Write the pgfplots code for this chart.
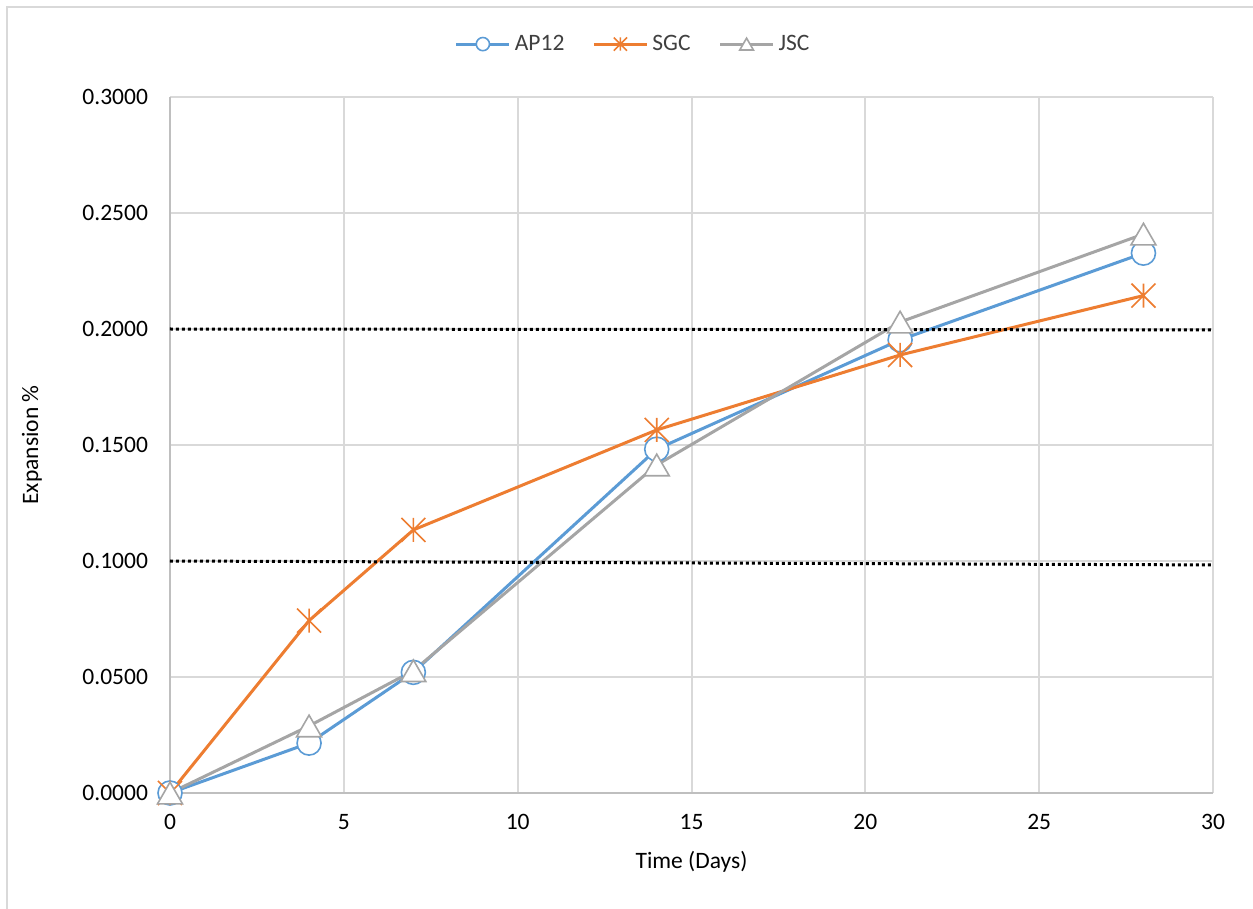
\documentclass[border=0pt]{standalone}
\usepackage{fontspec}
\setmainfont{Carlito}
\usepackage{pgfplots}
\pgfplotsset{compat=1.18}
\definecolor{cBlue}{HTML}{5B9BD5}
\definecolor{cOrange}{HTML}{ED7D31}
\definecolor{cGray}{HTML}{A5A5A5}
\definecolor{cGrid}{HTML}{D9D9D9}
\definecolor{cAxis}{HTML}{BFBFBF}
\definecolor{cText}{HTML}{404040}
\pgfdeclareplotmark{xstar}{%
  \pgfpathmoveto{\pgfqpoint{0pt}{\pgfplotmarksize}}\pgfpathlineto{\pgfqpoint{0pt}{-\pgfplotmarksize}}%
  \pgfpathmoveto{\pgfqpoint{-\pgfplotmarksize}{-\pgfplotmarksize}}\pgfpathlineto{\pgfqpoint{\pgfplotmarksize}{\pgfplotmarksize}}%
  \pgfpathmoveto{\pgfqpoint{-\pgfplotmarksize}{\pgfplotmarksize}}\pgfpathlineto{\pgfqpoint{\pgfplotmarksize}{-\pgfplotmarksize}}%
  \pgfusepathqstroke}
\pgfdeclareplotmark{ctri}{%
  \pgfpathmoveto{\pgfqpoint{0pt}{0.75\pgfplotmarksize}}%
  \pgfpathlineto{\pgfqpoint{-0.866\pgfplotmarksize}{-0.75\pgfplotmarksize}}%
  \pgfpathlineto{\pgfqpoint{0.866\pgfplotmarksize}{-0.75\pgfplotmarksize}}%
  \pgfpathclose
  \pgfusepathqfillstroke}
\begin{document}
\begin{tikzpicture}
\useasboundingbox (-85bp,-58bp) rectangle (541.5bp,396.5bp);
\draw[cGrid, line width=1bp] (-81.5bp,-60bp) -- (-81.5bp,393bp) -- (545bp,393bp);
\begin{axis}[
  at={(0,0)}, anchor=south west,
  scale only axis, width=521.5bp, height=348bp,
  xmin=0, xmax=30, ymin=0, ymax=0.3,
  xtick={0,5,10,15,20,25,30},
  ytick={0,0.05,0.1,0.15,0.2,0.25,0.3},
  scaled y ticks=false,
  axis lines*=left,
  axis line style={cAxis, line width=1bp},
  grid=major,
  major grid style={cGrid, line width=1bp},
  major tick length=0pt,
  /pgf/number format/assume math mode=true,
  tick label style={font=\fontsize{11.8}{14}\selectfont, text=black},
  y tick label style={/pgf/number format/fixed, /pgf/number format/fixed zerofill, /pgf/number format/precision=4, xshift=-7.5bp},
  x tick label style={yshift=-7bp},
  xlabel={Time (Days)}, ylabel={Expansion \%},
  every axis x label/.style={at={(axis description cs:0.5,-0.0991)}, anchor=center, font=\fontsize{11.8}{14}\selectfont, text=black},
  every axis y label/.style={at={(axis description cs:-0.1323,0.5)}, rotate=90, anchor=center, font=\fontsize{11.8}{14}\selectfont, text=black},
  clip=false,
  legend columns=3,
  legend style={at={(0.445,1.076)}, anchor=center, draw=none, fill=none,
    font=\fontsize{11.8}{14}\selectfont, text=cText,
    /tikz/every even column/.append style={column sep=12bp}},
  legend image code/.code={\draw[mark repeat=2, mark phase=2, every mark/.append style={scale=0.55}] plot coordinates {(0bp,0bp) (13.25bp,0bp) (26.5bp,0bp)};},
]
\addplot[cBlue, line width=1.5bp, mark=*, mark size=6bp, mark options={fill=white, draw=cBlue, line width=0.8bp}]
  coordinates {(0,0) (4,0.0215) (7,0.0520) (14,0.1482) (21,0.1953) (28,0.2327)};
\addlegendentry{AP12}
\addplot[cOrange, line width=1.5bp, mark=xstar, mark size=6bp, mark options={draw=cOrange, line width=0.8bp}]
  coordinates {(0,0) (4,0.0743) (7,0.1134) (14,0.1565) (21,0.1888) (28,0.2144)};
\addlegendentry{SGC}
\addplot[cGray, line width=1.5bp, mark=ctri, mark size=7.2bp, mark options={fill=white, draw=cGray, line width=0.8bp}]
  coordinates {(0,0) (4,0.0289) (7,0.0527) (14,0.1414) (21,0.2030) (28,0.2409)};
\addlegendentry{JSC}
\addplot[black, line width=1.5bp, dash pattern=on 1.5bp off 1.5bp, forget plot]
  coordinates {(0,0.2) (30,0.1996)};
\addplot[black, line width=1.5bp, dash pattern=on 1.5bp off 1.5bp, forget plot]
  coordinates {(0,0.1) (30,0.0983)};
\end{axis}
\end{tikzpicture}
\end{document}
